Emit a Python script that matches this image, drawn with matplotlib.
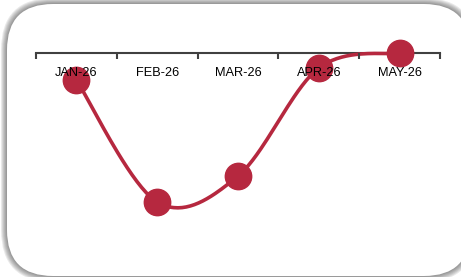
import numpy as np
import matplotlib
matplotlib.use('Agg')
import matplotlib.pyplot as plt
from matplotlib.patches import FancyBboxPatch
from matplotlib.transforms import IdentityTransform

# data
months = ['JAN-26', 'FEB-26', 'MAR-26', 'APR-26', 'MAY-26']
values = [-27, -149, -123, -15, 0]

LINE_COLOR = '#B6283F'
W, H = 461, 277
DPI = 100


def smooth_curve(xs, ys, xscale, n=40):
    """Excel-style smoothed line (Catmull-Rom as cubic Bezier)."""
    px = np.asarray(xs, float) * xscale
    py = np.asarray(ys, float)
    pts = np.column_stack([px, py])
    ext = np.vstack([pts[0], pts, pts[-1]])
    out = []
    for i in range(len(pts) - 1):
        p0, p3 = ext[i + 1], ext[i + 2]
        c1 = p0 + (ext[i + 2] - ext[i]) / 6
        c2 = p3 - (ext[i + 3] - ext[i + 1]) / 6
        t = np.linspace(0, 1, n)[:, None]
        seg = ((1 - t) ** 3 * p0 + 3 * (1 - t) ** 2 * t * c1
               + 3 * (1 - t) * t ** 2 * c2 + t ** 3 * p3)
        out.append(seg if i == 0 else seg[1:])
    out = np.vstack(out)
    return out[:, 0] / xscale, out[:, 1]


fig = plt.figure(figsize=(W / DPI, H / DPI), dpi=DPI)
fig.patch.set_facecolor('white')

# rounded frame with soft shadow (pixel coords, origin bottom-left)
x0, y0, x1, y1 = 7, 1, 470, 273
R = 46
for k in range(6, 0, -1):
    sh = FancyBboxPatch((x0 - k, y0 - k), (x1 - x0) + 2 * k, (y1 - y0) + 2 * k,
                        boxstyle='round,pad=0,rounding_size=%d' % (R + k),
                        transform=IdentityTransform(), facecolor='#303030',
                        edgecolor='none', alpha=0.1, zorder=-10)
    fig.patches.append(sh)
box = FancyBboxPatch((x0, y0), x1 - x0, y1 - y0,
                     boxstyle='round,pad=0,rounding_size=%d' % R,
                     transform=IdentityTransform(), facecolor='white',
                     edgecolor='none', zorder=-9)
fig.patches.append(box)

ax = fig.add_axes([36 / W, 1 - 253 / H, 404 / W, 200 / H])
ax.patch.set_alpha(0)
ax.set_xlim(-0.5, len(months) - 0.5)
ax.set_ylim(-200, 0)

x = np.arange(len(months))
sx, sy = smooth_curve(x, values, 80.8)
ax.plot(sx, sy, color=LINE_COLOR, lw=2.6, zorder=3, clip_on=False,
        solid_capstyle='round')
ax.plot(x, values, 'o', color=LINE_COLOR, ms=19, mec=LINE_COLOR, zorder=3,
        clip_on=False)

for s in ['top', 'left', 'right']:
    ax.spines[s].set_visible(False)
ax.spines['bottom'].set_position(('data', 0))
ax.spines['bottom'].set_color('#404040')
ax.spines['bottom'].set_linewidth(1.5)
ax.spines['bottom'].set_zorder(1)
ax.xaxis.set_zorder(4)

ax.set_yticks([])
ax.set_xticks(x)
ax.set_xticklabels(months, fontsize=9.2, family='Liberation Sans')
ax.set_xticks(np.arange(-0.5, len(months), 1), minor=True)
ax.tick_params(axis='x', which='major', length=0, pad=10, colors='black')
ax.tick_params(axis='x', which='minor', length=4, width=1.5, color='#404040')

fig.savefig('out.png', dpi=DPI)
